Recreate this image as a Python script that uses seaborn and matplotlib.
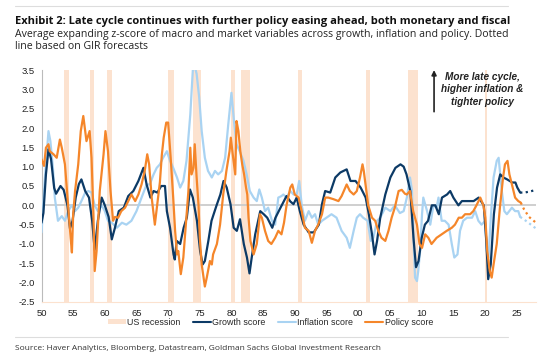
import pandas as pd
import matplotlib.pyplot as plt
import seaborn as sns
from matplotlib.patches import Patch
from matplotlib.lines import Line2D

# ---- data ----
growth_years = [1950.0, 1950.3, 1950.7, 1951.1, 1951.5, 1952.0, 1952.3, 1953.0, 1953.5, 1954.1,
                1954.5, 1954.9, 1955.4, 1955.9, 1956.3, 1956.9, 1957.5, 1958.0, 1958.4, 1958.9,
                1959.5, 1960.0, 1960.6, 1961.1, 1961.6, 1962.2, 1963.0, 1963.7, 1964.5, 1965.3,
                1966.1, 1966.6, 1967.2, 1967.7, 1968.3, 1968.9, 1969.5, 1969.8, 1970.3, 1970.85,
                1971.05, 1971.35, 1971.9, 1972.45, 1972.95, 1973.45, 1973.9, 1974.55, 1975.05, 1975.45,
                1975.8, 1976.35, 1976.85, 1977.65, 1978.25, 1978.75, 1979.25, 1979.85, 1980.35, 1980.85,
                1981.35, 1981.95, 1982.45, 1982.85, 1983.2, 1983.75, 1984.55, 1985.1, 1985.65, 1986.45,
                1986.95, 1987.75, 1988.7, 1989.3, 1989.8, 1990.3, 1990.8, 1991.4, 1992.2, 1993.0,
                1993.8, 1994.3, 1994.8, 1995.6, 1996.4, 1997.2, 1998.2, 1998.8, 1999.6, 2000.4,
                2001.2, 2001.7, 2002.2, 2002.6, 2003.0, 2003.5, 2004.3, 2005.1, 2005.9, 2006.7,
                2007.2, 2007.65, 2008.25, 2008.75, 2009.15, 2009.55, 2010.05, 2010.55, 2011.05, 2011.65,
                2012.2, 2012.75, 2013.25, 2014.05, 2014.55, 2015.05, 2015.85, 2016.4, 2017.25, 2018.25,
                2019.05, 2019.85, 2020.25, 2020.55, 2020.95, 2021.45, 2021.95, 2022.45, 2022.95, 2023.55,
                2024.35, 2024.85, 2025.15, 2025.6]
growth_vals = [-0.45, -0.2, 0.8, 1.45, 1.2, 0.45, 0.3, 0.5, 0.4, 0.0,
               -0.6, -0.4, 0.2, 0.55, 0.67, 0.37, 0.2, -0.4, -1.15, -0.4,
               0.2, 0.0, -0.3, -0.88, -0.58, -0.15, -0.06, 0.24, 0.37, 0.63,
               0.97, 0.54, 0.2, 0.37, 0.33, 0.5, 0.5, -0.15, -0.58, -1.27,
               -1.4, -0.92, -1.0, -0.58, -0.32, 0.41, 0.2, -0.4, -1.18, -1.53,
               -1.44, -0.92, -0.4, 0.0, 0.28, 0.63, 0.46, 0.03, -0.58, -0.66,
               -0.36, -1.0, -1.35, -1.76, -1.35, -0.75, -0.15, -0.23, -0.32, -0.58,
               -0.32, -0.06, 0.24, 0.1, 0.03, 0.2, -0.15, -0.5, -0.7, -0.7,
               -0.5, 0.03, 0.37, 0.33, 0.72, 0.85, 0.93, 0.63, 0.63, 0.46,
               0.2, -0.23, -0.75, -1.27, -0.92, -0.32, 0.28, 0.72, 0.97, 1.06,
               1.0, 0.8, 0.37, -0.84, -1.6, -1.44, -0.84, -0.5, -0.4, 0.0,
               0.0, -0.23, 0.2, 0.28, 0.37, 0.2, 0.0, 0.11, 0.11, 0.11,
               0.2, 0.0, -0.92, -1.91, -1.53, -0.23, 0.46, 0.8, 0.72, 0.67,
               0.59, 0.59, 0.46, 0.33]

inflation_years = [1950.0, 1950.5, 1951.1, 1951.4, 1951.8, 1952.1, 1952.6, 1953.2, 1953.7, 1954.2,
                   1954.8, 1955.3, 1955.8, 1956.3, 1956.9, 1957.4, 1957.9, 1958.4, 1958.9, 1959.5,
                   1960.0, 1960.5, 1961.1, 1961.9, 1962.7, 1963.4, 1964.2, 1965.0, 1965.8, 1966.6,
                   1967.1, 1967.7, 1968.2, 1968.7, 1969.2, 1969.8, 1970.3, 1970.8, 1971.4, 1971.9,
                   1972.4, 1972.9, 1973.5, 1973.9, 1974.2, 1974.5, 1974.9, 1975.3, 1975.8, 1976.3,
                   1976.9, 1977.4, 1977.9, 1978.5, 1979.0, 1979.5, 1980.0, 1980.4, 1980.8, 1981.3,
                   1981.9, 1982.4, 1982.9, 1983.5, 1984.0, 1984.4, 1984.8, 1985.3, 1985.8, 1986.4,
                   1986.9, 1987.4, 1987.9, 1988.2, 1988.7, 1989.3, 1989.8, 1990.3, 1990.7, 1991.1,
                   1991.6, 1992.2, 1992.7, 1993.2, 1993.7, 1994.3, 1995.0, 1995.8, 1996.6, 1997.4,
                   1998.2, 1998.7, 1999.3, 1999.8, 2000.3, 2000.8, 2001.5, 2002.0, 2002.4, 2003.0,
                   2003.5, 2004.3, 2005.1, 2005.8, 2006.6, 2007.2, 2007.7, 2008.2, 2008.5, 2008.7,
                   2009.0, 2009.3, 2009.5, 2009.8, 2010.1, 2010.3, 2010.9, 2011.4, 2011.9, 2012.4,
                   2012.7, 2013.2, 2013.7, 2014.3, 2014.8, 2015.2, 2015.7, 2016.1, 2016.6, 2017.2,
                   2018.0, 2018.5, 2019.0, 2019.5, 2020.1, 2020.3, 2020.6, 2021.0, 2021.4, 2021.9,
                   2022.2, 2022.4, 2022.7, 2023.1, 2023.5, 2024.3, 2024.8, 2025.3, 2025.6]
inflation_vals = [-0.7, 0.63, 1.92, 1.66, 0.97, 0.2, -0.4, -0.28, -0.4, -0.15,
                  0.0, -0.15, -0.06, 0.11, 0.33, 0.37, 0.33, 0.0, -0.15, 0.0,
                  -0.15, -0.4, -0.45, -0.58, -0.45, -0.5, -0.4, -0.15, 0.2, 0.54,
                  0.54, 0.8, 0.97, 1.06, 1.23, 1.4, 1.15, 0.97, 0.72, 0.46,
                  0.63, 1.15, 2.35, 3.5, 3.6, 3.4, 2.8, 1.92, 1.23, 0.89,
                  0.72, 0.89, 0.8, 0.89, 1.23, 2.1, 2.91, 2.18, 1.58, 1.4,
                  1.15, 0.8, 0.37, 0.2, 0.11, 0.41, 0.2, -0.15, -0.06, -0.4,
                  -0.5, 0.2, 0.24, 0.28, 0.2, 0.37, 0.28, 0.28, 0.63, 0.0,
                  -0.4, -0.15, -0.32, -0.23, -0.5, -0.4, -0.32, -0.23, -0.32, -0.66,
                  -0.84, -1.1, -0.66, -0.32, -0.23, -0.32, -0.4, -0.92, -0.84, -0.4,
                  -0.32, -0.06, -0.15, 0.0, -0.2, -0.15, 0.2, 0.72, 0.4, -0.66,
                  -1.87, -1.96, -1.7, -1.18, -0.23, 0.2, -0.15, -0.5, 0.0, -0.06,
                  0.2, -0.4, -0.4, -0.5, -1.0, -1.35, -1.27, -0.66, -0.4, -0.32,
                  -0.32, -0.15, -0.4, -0.5, -0.4, -1.18, -1.35, -0.23, 0.72, 1.15,
                  1.23, 0.89, 0.37, -0.15, -0.23, -0.06, -0.15, -0.15, -0.3]

policy_years = [1950.0, 1950.4, 1950.7, 1951.1, 1951.3, 1951.9, 1952.4, 1952.9, 1953.2, 1953.7,
                1954.2, 1954.6, 1954.8, 1955.0, 1955.3, 1955.8, 1956.2, 1956.6, 1957.1, 1957.6,
                1957.9, 1958.2, 1958.4, 1958.7, 1959.2, 1959.8, 1960.1, 1960.5, 1960.9, 1961.3,
                1961.6, 1962.1, 1962.6, 1963.2, 1963.7, 1964.2, 1964.8, 1965.3, 1965.8, 1966.3,
                1966.7, 1967.0, 1967.4, 1967.9, 1968.4, 1968.7, 1969.0, 1969.3, 1969.7, 1970.0,
                1970.4, 1970.8, 1971.1, 1971.4, 1971.6, 1972.0, 1972.4, 1972.8, 1973.2, 1973.5,
                1973.7, 1974.0, 1974.2, 1974.5, 1974.8, 1975.0, 1975.3, 1975.8, 1976.1, 1976.6,
                1976.9, 1977.1, 1977.7, 1978.2, 1978.7, 1979.2, 1979.7, 1979.9, 1980.2, 1980.6,
                1980.8, 1981.1, 1981.4, 1981.7, 1982.0, 1982.3, 1982.5, 1982.7, 1983.0, 1983.5,
                1984.0, 1984.5, 1984.8, 1985.3, 1985.8, 1986.3, 1986.9, 1987.4, 1987.9, 1988.3,
                1988.7, 1989.3, 1989.6, 1990.0, 1990.6, 1991.1, 1991.6, 1992.2, 1992.7, 1993.2,
                1993.7, 1994.3, 1994.8, 1995.3, 1996.1, 1996.9, 1997.4, 1998.2, 1998.7, 1999.3,
                1999.8, 2000.3, 2000.7, 2000.9, 2001.3, 2001.6, 2002.2, 2002.7, 2003.2, 2003.7,
                2004.3, 2004.8, 2005.3, 2005.8, 2006.4, 2006.9, 2007.4, 2007.7, 2008.2, 2008.7,
                2009.3, 2009.7, 2010.1, 2010.6, 2011.1, 2011.6, 2012.4, 2013.2, 2014.0, 2014.8,
                2015.3, 2015.9, 2016.4, 2016.9, 2017.7, 2018.2, 2018.7, 2019.3, 2019.8, 2020.1,
                2020.4, 2020.8, 2021.1, 2021.4, 2021.9, 2022.4, 2022.9, 2023.2, 2023.6, 2023.9,
                2024.3, 2024.8, 2025.3, 2025.7]
policy_vals = [1.19, 1.02, 1.49, 1.58, 1.4, 1.32, 1.23, 1.7, 1.49, 1.06,
               0.0, -0.84, -1.22, -0.23, 0.37, 1.06, 1.92, 2.31, 1.66, 1.92,
               1.23, -0.23, -1.7, -1.18, 0.37, 1.32, 1.92, 1.4, 0.37, -0.4,
               -0.3, -0.32, -0.15, -0.06, 0.11, 0.28, 0.11, 0.28, 0.54, 0.89,
               1.32, 1.06, 0.2, -0.5, 0.2, 0.6, 1.3, 1.75, 2.14, 2.14,
               1.23, 0.2, -0.66, -1.27, -1.18, -1.78, -1.35, -0.5, 0.37, 1.49,
               0.8, 0.97, 1.58, 0.72, 0.0, -0.84, -1.53, -2.1, -1.87, -1.44,
               -1.53, -1.27, -1.0, -0.5, 0.28, 0.89, 1.4, 1.75, 1.32, 0.8,
               2.18, 1.92, 1.4, 1.06, 0.8, 0.46, 0.28, -0.32, -0.92, -1.27,
               -1.0, -0.23, -0.32, -0.66, -0.92, -1.0, -0.84, -0.66, -0.75, -0.45,
               0.0, 0.46, 0.54, 0.28, 0.2, -0.15, -0.58, -0.66, -0.97, -0.66,
               -0.5, -0.23, 0.2, 0.2, 0.16, 0.11, 0.24, 0.54, 0.37, 0.28,
               0.37, 0.72, 1.06, 0.89, 0.37, 0.0, -0.32, -0.4, -0.66, -0.84,
               -0.92, -0.66, -0.32, -0.06, 0.37, 0.4, 0.3, 0.28, 0.37, -0.15,
               -0.5, -1.0, -1.1, -0.75, -0.84, -1.0, -0.84, -0.75, -0.66, -0.58,
               -0.5, -0.32, -0.32, -0.23, -0.23, -0.15, 0.0, 0.2, 0.0, -0.32,
               -1.18, -1.7, -1.87, -1.53, -1.0, -0.06, 0.72, 1.06, 1.15, 0.8,
               0.54, 0.2, 0.11, 0.07]

# GIR forecasts (dotted)
growth_fc_years = [2025.6, 2026.3, 2027.2, 2028.1]
growth_fc_vals = [0.33, 0.33, 0.36, 0.4]
inflation_fc_years = [2025.6, 2026.5, 2027.3, 2028.1]
inflation_fc_vals = [-0.3, -0.4, -0.5, -0.6]
policy_fc_years = [2025.7, 2026.2, 2027.0, 2028.1]
policy_fc_vals = [0.07, -0.1, -0.3, -0.45]

# NBER recessions
rec_start = [1953.5, 1957.6, 1960.3, 1969.9, 1973.9, 1980.0, 1981.5, 1990.5, 2001.2, 2007.9, 2020.1]
rec_end = [1954.4, 1958.3, 1961.1, 1970.9, 1975.2, 1980.5, 1982.9, 1991.2, 2001.9, 2009.5, 2020.3]

xtick_years = list(range(1950, 2026, 5))
xtick_labels = [f"{y % 100:02d}" for y in xtick_years]

colors = {"Growth score": "#0c3a66", "Inflation score": "#a9d3f2", "Policy score": "#f5862a"}
rec_color = "#fce2cf"

hist = pd.concat([
    pd.DataFrame({"year": growth_years, "value": growth_vals, "series": "Growth score"}),
    pd.DataFrame({"year": inflation_years, "value": inflation_vals, "series": "Inflation score"}),
    pd.DataFrame({"year": policy_years, "value": policy_vals, "series": "Policy score"}),
])
fc = pd.concat([
    pd.DataFrame({"year": growth_fc_years, "value": growth_fc_vals, "series": "Growth score"}),
    pd.DataFrame({"year": inflation_fc_years, "value": inflation_fc_vals, "series": "Inflation score"}),
    pd.DataFrame({"year": policy_fc_years, "value": policy_fc_vals, "series": "Policy score"}),
])

sns.set_style("white")
plt.rcParams["font.family"] = ["Liberation Sans", "DejaVu Sans"]

fig = plt.figure(figsize=(5.52, 3.59), dpi=100)
ax = fig.add_axes([0.0752, 0.1588, 0.8958, 0.6462])

for s, e in zip(rec_start, rec_end):
    ax.axvspan(s, e, color=rec_color, lw=0, zorder=0)
ax.axhline(0, color="#cccccc", lw=1.3, zorder=1)

# draw order: inflation under growth under policy
order = ["Inflation score", "Growth score", "Policy score"]
for name in order:
    sns.lineplot(data=hist[hist.series == name], x="year", y="value", color=colors[name],
                 lw=1.6, sort=False, estimator=None, ax=ax, zorder=3)
    sns.lineplot(data=fc[fc.series == name], x="year", y="value", color=colors[name],
                 lw=1.6, linestyle=(0, (1, 1.5)), sort=False, estimator=None, ax=ax, zorder=3)

ax.set_xlim(1950, 2028.1)
ax.set_ylim(-2.5, 3.5)
ax.set_yticks([-2.5, -2.0, -1.5, -1.0, -0.5, 0.0, 0.5, 1.0, 1.5, 2.0, 2.5, 3.0, 3.5])
ax.set_yticklabels([f"{v:.1f}" for v in ax.get_yticks()])
ax.set_xticks(xtick_years)
ax.set_xticklabels(xtick_labels)
ax.set_xlabel("")
ax.set_ylabel("")
ax.tick_params(axis="y", length=3, color="#bbbbbb", labelsize=6.8, labelcolor="#222222", pad=2)
ax.tick_params(axis="x", length=0, labelsize=6.8, labelcolor="#222222", pad=5)
for side in ["top", "right"]:
    ax.spines[side].set_visible(False)
ax.spines["left"].set_color("#bbbbbb")
ax.spines["left"].set_linewidth(0.8)
ax.spines["bottom"].set_color(rec_color)
ax.spines["bottom"].set_linewidth(0.8)

# annotation arrow + text
ax.annotate("", xy=(2012.0, 3.57), xytext=(2012.0, 2.35),
            arrowprops=dict(arrowstyle="-|>", color="#222222", lw=1.2, mutation_scale=7),
            annotation_clip=False)
ax.text(2019.6, 3.0, "More late cycle,\nhigher inflation &\ntighter policy", ha="center", va="center",
        fontsize=7.2, fontweight="bold", fontstyle="italic", color="#222222", linespacing=1.3)

# legend
handles = [Patch(facecolor=rec_color, edgecolor="none", label="US recession")]
for name in ["Growth score", "Inflation score", "Policy score"]:
    handles.append(Line2D([0], [0], color=colors[name], lw=1.5, label=name))
fig.legend(handles=handles, loc="center", bbox_to_anchor=(0.49, 0.103), ncol=4, frameon=False,
           fontsize=6.4, handlelength=2.0, handletextpad=0.15, columnspacing=1.4, handleheight=0.6)

# titles and source
fig.add_artist(Line2D([15 / 552, 508 / 552], [1 - 6 / 359, 1 - 6 / 359], color="#dddddd", lw=0.8))
fig.add_artist(Line2D([15 / 552, 508 / 552], [1 - 337 / 359, 1 - 337 / 359], color="#dddddd", lw=0.8))
fig.text(15 / 552, 1 - 24 / 359,
         "Exhibit 2: Late cycle continues with further policy easing ahead, both monetary and fiscal",
         fontsize=8.0, fontweight="bold", family="Open Sans", color="#111111", va="baseline")
fig.text(15 / 552, 1 - 36.5 / 359,
         "Average expanding z-score of macro and market variables across growth, inflation and policy. Dotted",
         fontsize=7.6, family="Open Sans", color="#222222", va="baseline")
fig.text(15 / 552, 1 - 49 / 359, "line based on GIR forecasts",
         fontsize=7.6, family="Open Sans", color="#222222", va="baseline")
fig.text(15 / 552, 1 - 350 / 359,
         "Source: Haver Analytics, Bloomberg, Datastream, Goldman Sachs Global Investment Research",
         fontsize=6.05, family="Open Sans", color="#333333", va="baseline")

fig.savefig("out.png", dpi=100)
